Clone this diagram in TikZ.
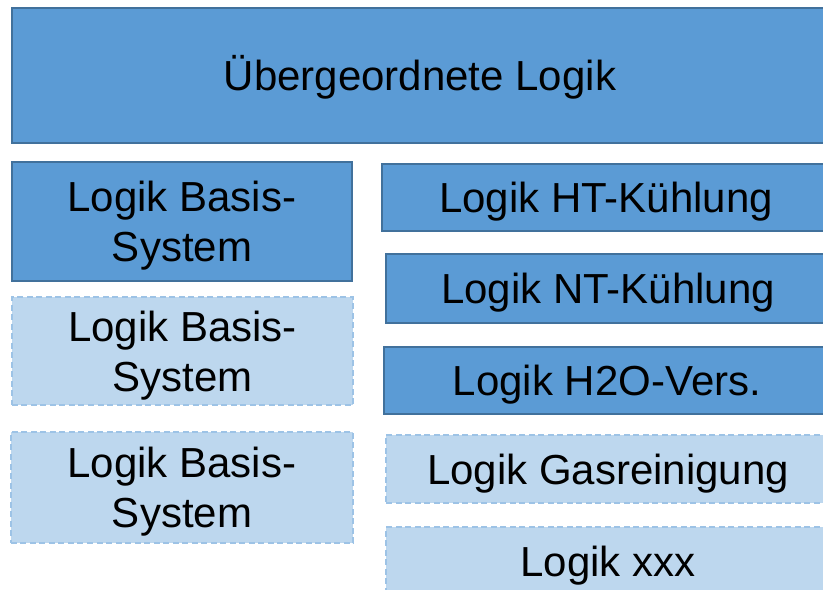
\documentclass[tikz,border=0pt]{standalone}
\usepackage{fontspec}
\setmainfont{Liberation Sans}
\usepackage{tikz}
\usetikzlibrary{positioning}

\definecolor{boxblue}{RGB}{91,155,213}
\definecolor{boxedge}{RGB}{65,113,156}
\definecolor{optblue}{RGB}{189,215,238}
\definecolor{optedge}{RGB}{157,195,230}

\begin{document}
\begin{tikzpicture}[x=1bp,y=-1bp,
  logik/.style={draw=boxedge,fill=boxblue,line width=1.2bp,inner sep=0pt,
    align=center,font=\fontsize{42bp}{50bp}\selectfont,text height=30bp,text depth=0bp},
  logikopt/.style={logik,draw=optedge,fill=optblue,dash pattern=on 6bp off 3.5bp},
  twoline/.style={text height=80bp}]
\useasboundingbox (0,0) rectangle (823,590);
\clip (0,0) rectangle (823,590);
% top level
\node[logik,minimum width=816bp,minimum height=135bp] (top) at (420,75.5) {Übergeordnete Logik};
% left column
\node[logik,twoline,minimum width=340bp,minimum height=119bp] (basis1) at (182,221.5) {Logik Basis-\\System};
\node[logikopt,twoline,minimum width=341bp,minimum height=108bp] (basis2) at (182.5,351) {Logik Basis-\\System};
\node[logikopt,twoline,minimum width=342bp,minimum height=111bp] (basis3) at (182,487.5) {Logik Basis-\\System};
% right column
\node[logik,minimum width=448bp,minimum height=67bp] (ht) at (606,197.5) {Logik HT-Kühlung};
\node[logik,minimum width=444bp,minimum height=69bp] (nt) at (608,288.5) {Logik NT-Kühlung};
\node[logik,minimum width=446bp,minimum height=67bp] (htwo) at (607,380.5) {Logik H2O-Vers.};
\node[logikopt,minimum width=444bp,minimum height=68bp] (gas) at (608,469) {Logik Gasreinigung};
\node[logikopt,minimum width=444bp,minimum height=68bp] (xxx) at (608,561) {Logik xxx};
\end{tikzpicture}
\end{document}
